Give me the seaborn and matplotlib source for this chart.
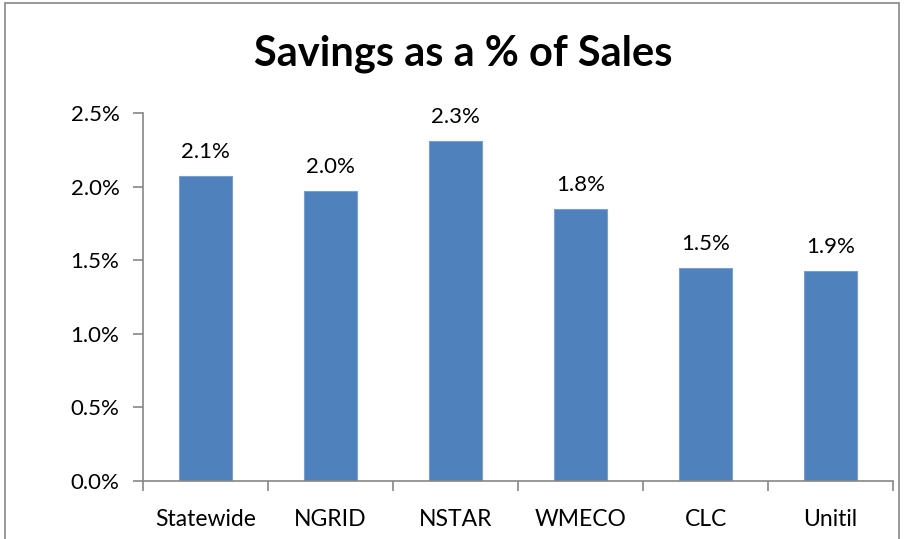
import matplotlib
matplotlib.use("Agg")
import matplotlib.pyplot as plt
import seaborn as sns
import pandas as pd
from matplotlib.patches import Rectangle
from matplotlib.ticker import FuncFormatter, FixedLocator

categories = ["Statewide", "NGRID", "NSTAR", "WMECO", "CLC", "Unitil"]
values = [2.07, 1.97, 2.31, 1.85, 1.45, 1.43]
bar_labels = ["2.1%", "2.0%", "2.3%", "1.8%", "1.5%", "1.9%"]
yticks = [0.0, 0.5, 1.0, 1.5, 2.0, 2.5]

df = pd.DataFrame({"cat": categories, "val": values})

sns.set_theme(style="white")
plt.rcParams["font.family"] = ["Lato", "DejaVu Sans"]

fig = plt.figure(figsize=(9.05, 5.39), dpi=100)
ax = fig.add_axes([143/905, 1-481/539, 750/905, 368/539])

sns.barplot(data=df, x="cat", y="val", color="#4F81BD", width=0.42,
            saturation=1, ax=ax, edgecolor="#7BA0CD", linewidth=0.8)

for i, (v, lab) in enumerate(zip(values, bar_labels)):
    ax.annotate(lab, (i, v), xytext=(0, 24), textcoords="offset pixels",
                ha="center", va="center", fontsize=16, color="black")

ax.set_ylim(0, 2.5)
ax.set_xlim(-0.5, len(categories) - 0.5)
ax.yaxis.set_major_locator(FixedLocator(yticks))
ax.yaxis.set_major_formatter(FuncFormatter(lambda y, p: f"{y:.1f}%"))
ax.set_xlabel("")
ax.set_ylabel("")

for s in ["top", "right"]:
    ax.spines[s].set_visible(False)
for s in ["left", "bottom"]:
    ax.spines[s].set_color("#868686")
    ax.spines[s].set_linewidth(1.2)

ax.tick_params(axis="y", which="major", length=7, width=1.2, color="#868686",
               direction="out", labelsize=16, pad=10, left=True, labelcolor="black")
ax.tick_params(axis="x", which="major", length=0, labelsize=16.5, pad=20, labelcolor="black")
ax.set_xticks(range(len(categories)))
ax.set_xticklabels(categories)
ax.set_xticks([i - 0.5 for i in range(len(categories) + 1)], minor=True)
ax.tick_params(axis="x", which="minor", length=7, width=1.2, color="#868686",
               direction="out", bottom=True)

fig.text(463/905, 1-54/539, "Savings as a % of Sales", ha="center", va="center",
         fontsize=30, fontweight="bold", color="black")

fig.patches.append(Rectangle((5/905, -0.05), 894/905, 1.05 - 3/539,
                             transform=fig.transFigure, fill=False,
                             edgecolor="#868686", linewidth=1.2))

fig.savefig("out.png", dpi=100)
